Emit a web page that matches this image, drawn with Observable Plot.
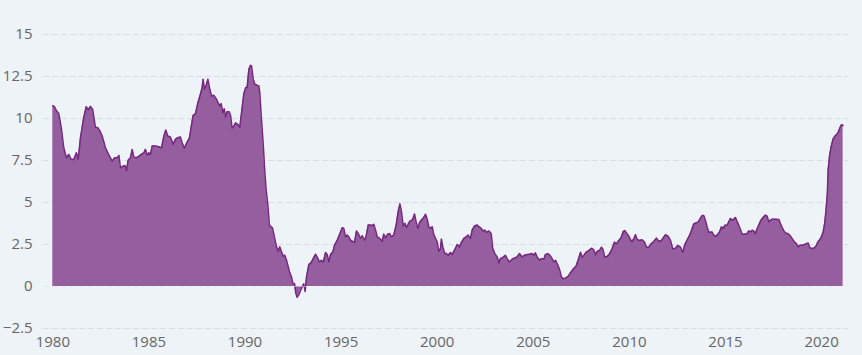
<!DOCTYPE html>
<html>
<head>
<meta charset="utf-8">
<script src="https://cdn.jsdelivr.net/npm/d3@7"></script>
<script src="https://cdn.jsdelivr.net/npm/@observablehq/plot@0.6"></script>
<style>
  html, body { margin: 0; padding: 0; background: #eef3f8; }
  #chart svg { display: block; }
</style>
</head>
<body>
<div id="chart"></div>
<script>
const years = [
  1980.0,1980.09,1980.19,1980.31,1980.44,1980.57,1980.71,1980.83,1980.96,1981.09,1981.23,1981.32,1981.44,1981.61,1981.74,1981.84,1981.96,
  1982.08,1982.22,1982.34,1982.45,1982.57,1982.74,1982.92,1983.09,1983.21,1983.35,1983.44,1983.52,1983.66,1983.75,1983.83,1983.92,
  1984.04,1984.13,1984.22,1984.35,1984.48,1984.6,1984.74,1984.82,1984.91,1985.0,1985.08,1985.17,1985.34,1985.52,1985.66,1985.78,1985.88,1985.98,
  1986.12,1986.26,1986.38,1986.5,1986.64,1986.73,1986.85,1986.99,1987.11,1987.22,1987.3,1987.42,1987.55,1987.68,1987.77,1987.82,1987.89,
  1988.0,1988.07,1988.17,1988.26,1988.38,1988.5,1988.6,1988.69,1988.76,1988.85,1988.92,1988.99,1989.07,1989.18,1989.25,1989.33,1989.42,1989.51,1989.63,1989.73,1989.85,1989.94,
  1990.04,1990.11,1990.2,1990.29,1990.34,1990.43,1990.51,1990.63,1990.72,1990.77,1990.84,1990.95,1991.03,1991.1,1991.19,1991.27,1991.36,1991.43,1991.53,1991.64,1991.73,1991.81,1991.9,1991.99,
  1992.07,1992.16,1992.23,1992.32,1992.42,1992.49,1992.58,1992.64,1992.71,1992.8,1992.89,1992.97,1993.06,1993.13,1993.2,1993.32,1993.44,1993.55,1993.67,1993.75,1993.88,1993.98,
  1994.08,1994.19,1994.28,1994.36,1994.45,1994.57,1994.66,1994.8,1994.92,1995.06,1995.14,1995.23,1995.32,1995.4,1995.49,1995.58,1995.7,1995.8,1995.89,
  1996.01,1996.1,1996.22,1996.3,1996.41,1996.53,1996.62,1996.7,1996.79,1996.88,1997.01,1997.14,1997.22,1997.31,1997.43,1997.52,1997.62,1997.74,1997.87,1997.97,
  1998.06,1998.14,1998.23,1998.32,1998.39,1998.49,1998.58,1998.66,1998.73,1998.82,1998.91,1998.99,1999.08,1999.18,1999.27,1999.39,1999.48,1999.56,1999.65,1999.74,1999.82,1999.91,
  2000.0,2000.08,2000.17,2000.22,2000.29,2000.4,2000.48,2000.57,2000.69,2000.78,2000.9,2001.04,2001.16,2001.26,2001.39,2001.51,2001.61,2001.73,2001.82,2001.94,
  2002.08,2002.17,2002.29,2002.39,2002.48,2002.57,2002.69,2002.81,2002.89,2003.0,2003.12,2003.21,2003.29,2003.41,2003.55,2003.64,2003.76,2003.9,
  2004.04,2004.16,2004.28,2004.42,2004.54,2004.68,2004.8,2004.94,2005.03,2005.11,2005.2,2005.32,2005.43,2005.55,2005.63,2005.76,2005.86,2005.98,
  2006.07,2006.16,2006.28,2006.38,2006.47,2006.55,2006.68,2006.81,2006.94,2007.07,2007.23,2007.33,2007.46,2007.54,2007.63,2007.75,2007.89,
  2008.03,2008.15,2008.24,2008.32,2008.44,2008.55,2008.62,2008.72,2008.84,2008.96,2009.1,2009.22,2009.33,2009.45,2009.57,2009.68,2009.76,2009.85,2009.97,
  2010.06,2010.14,2010.23,2010.32,2010.4,2010.53,2010.66,2010.79,2010.89,2011.01,2011.13,2011.27,2011.41,2011.53,2011.67,2011.79,2011.88,
  2012.02,2012.14,2012.26,2012.4,2012.52,2012.66,2012.78,2012.88,2013.01,2013.13,2013.23,2013.35,2013.47,2013.58,2013.7,2013.79,2013.87,2013.96,
  2014.05,2014.13,2014.3,2014.39,2014.51,2014.6,2014.69,2014.79,2014.88,2014.97,2015.09,2015.17,2015.26,2015.35,2015.43,2015.52,2015.61,2015.69,2015.78,2015.87,2015.99,
  2016.13,2016.21,2016.3,2016.39,2016.47,2016.56,2016.65,2016.73,2016.82,2016.91,2016.99,2017.08,2017.17,2017.25,2017.34,2017.43,2017.6,2017.78,2017.86,2017.95,
  2018.04,2018.12,2018.24,2018.35,2018.47,2018.59,2018.69,2018.78,2018.87,2018.99,2019.11,2019.22,2019.3,2019.39,2019.51,2019.63,2019.74,2019.8,2019.91,2019.99,
  2020.08,2020.16,2020.23,2020.3,2020.34,2020.41,2020.5,2020.6,2020.69,2020.78,2020.87,2020.95,2021.04,2021.12
];
const values = [
  10.76,10.7,10.46,10.3,9.46,8.26,7.66,7.86,7.56,7.56,7.96,7.56,8.86,10.06,10.7,10.52,10.72,
  10.52,9.46,9.46,9.26,8.96,8.26,7.82,7.46,7.66,7.66,7.8,7.06,7.16,7.2,6.9,7.52,
  7.66,8.16,7.7,7.66,7.76,7.86,7.96,8.16,7.82,7.96,7.86,8.36,8.36,8.32,8.26,8.96,9.32,8.96,
  8.9,8.46,8.76,8.86,8.9,8.54,8.24,8.6,8.84,9.64,10.18,10.28,10.94,11.44,11.84,12.34,11.74,
  12.04,12.34,11.74,11.34,11.38,11.18,10.94,10.74,10.88,10.34,10.58,10.08,10.4,10.4,10.18,9.44,9.54,9.74,9.64,9.48,10.64,11.48,
  11.84,11.84,12.93,13.17,13.13,12.34,12.04,11.98,11.94,11.54,10.24,8.44,6.85,5.75,4.85,3.65,3.55,3.49,2.95,2.36,2.1,2.36,2.06,1.8,
  1.86,1.56,1.26,0.86,0.56,0.2,0.16,-0.38,-0.64,-0.5,-0.24,-0.04,0.16,-0.3,0.56,1.3,1.42,1.66,1.92,1.76,1.46,1.56,
  1.46,2.02,1.9,1.46,1.9,2.06,2.46,2.76,3.1,3.5,3.46,2.96,3.06,2.96,2.76,2.7,2.62,3.3,3.16,
  2.86,3.02,2.76,2.96,3.66,3.66,3.62,3.7,3.36,2.96,2.86,2.7,3.12,2.9,3.12,3.16,2.96,3.06,3.7,4.46,
  4.92,4.46,3.62,3.76,3.52,3.7,3.9,3.92,4.02,4.32,3.82,3.46,3.8,3.96,4.06,4.3,4.02,3.56,3.46,3.56,3.1,2.86,
  2.66,2.1,2.26,2.82,2.36,1.96,1.96,1.86,2.02,1.9,2.16,2.5,2.36,2.62,2.86,2.96,3.06,2.86,3.36,3.6,
  3.66,3.56,3.46,3.3,3.36,3.22,3.3,3.16,2.26,1.96,1.76,1.4,1.66,1.72,1.86,1.66,1.46,1.62,
  1.7,1.76,1.96,1.76,1.86,1.9,1.92,1.96,1.86,2.0,1.76,1.56,1.66,1.62,1.9,1.96,1.86,1.66,
  1.46,1.56,1.26,0.96,0.56,0.46,0.5,0.6,0.82,1.02,1.22,1.56,2.04,1.75,1.85,2.04,2.14,
  2.28,2.18,1.88,2.08,2.14,2.34,2.24,1.75,1.79,1.94,2.24,2.64,2.54,2.74,2.9,3.27,3.33,3.19,3.0,
  2.78,2.68,2.84,3.08,2.8,2.74,2.78,2.64,2.34,2.34,2.54,2.68,2.88,2.68,2.74,2.94,3.08,
  2.98,2.74,2.24,2.28,2.44,2.34,2.04,2.48,2.78,3.04,3.33,3.73,3.79,3.83,4.07,4.23,4.23,3.93,
  3.53,3.23,3.25,3.05,2.99,3.11,3.25,3.55,3.45,3.65,3.65,3.85,4.05,3.95,4.01,4.11,3.85,3.65,3.39,3.11,3.11,
  3.15,3.31,3.25,3.35,3.31,3.15,3.45,3.65,3.89,4.05,4.15,4.25,4.19,3.85,3.95,4.01,4.01,3.99,3.75,3.51,
  3.31,3.19,3.15,3.05,2.85,2.65,2.55,2.36,2.46,2.46,2.5,2.55,2.59,2.3,2.26,2.3,2.46,2.65,2.79,2.95,
  3.25,3.75,4.55,5.55,6.95,7.74,8.34,8.78,8.94,9.04,9.18,9.44,9.64,9.58
];
const xTicks = [1980, 1985, 1990, 1995, 2000, 2005, 2010, 2015, 2020];
const yTicks = [-2.5, 0, 2.5, 5, 7.5, 10, 12.5, 15];

const data = years.map((year, i) => ({year, value: values[i]}));
const fmtY = d => (d < 0 ? "\u2212" + Math.abs(d) : String(d));

const chart = Plot.plot({
  width: 862,
  height: 355,
  marginLeft: 43,
  marginRight: 14,
  marginTop: 34,
  marginBottom: 27,
  style: {background: "#eef3f8", fontFamily: "'Open Sans', sans-serif", fontSize: "15px", color: "#666666"},
  x: {domain: [1979.516, 2021.4], label: null},
  y: {domain: [-2.5, 15], label: null},
  marks: [
    Plot.ruleY(yTicks, {stroke: "#d9dee4", strokeWidth: 1, strokeDasharray: "6,3"}),
    Plot.areaY(data, {x: "year", y: "value", fill: "#955e9e", curve: "linear"}),
    Plot.lineY(data, {x: "year", y: "value", stroke: "#74287f", strokeWidth: 1.5, curve: "linear"}),
    Plot.ruleY([0], {stroke: "#ffffff", strokeOpacity: 0.45, strokeWidth: 1}),
    Plot.axisX(xTicks, {tickSize: 0, tickPadding: 8, tickFormat: d => String(d), fontSize: 15, fill: "#666666"}),
    Plot.axisY(yTicks, {tickSize: 0, tickPadding: 11, tickFormat: fmtY, fontSize: 15, fill: "#666666"})
  ]
});
document.getElementById("chart").appendChild(chart);
</script>
</body>
</html>
